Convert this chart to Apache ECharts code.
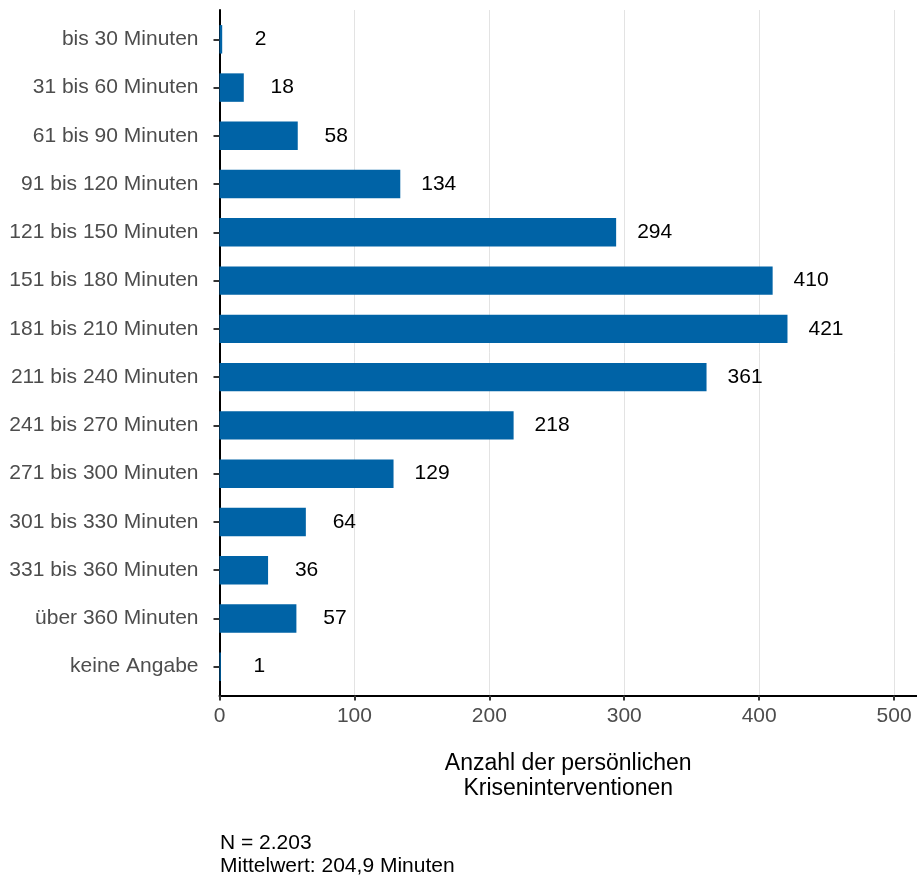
<!DOCTYPE html>
<html>
<head>
<meta charset="utf-8">
<script src="https://cdn.jsdelivr.net/npm/echarts@6/dist/echarts.min.js"></script>
<style>
  html, body { margin: 0; padding: 0; background: #fff; }
  #chart { width: 917px; height: 878px; }
</style>
</head>
<body>
<div id="chart"></div>
<script>
// Dauer der persönlichen Krisenintervention (Kategorien) und Anzahl der Fälle
const categories = [
  'bis 30 Minuten', '31 bis 60 Minuten', '61 bis 90 Minuten', '91 bis 120 Minuten',
  '121 bis 150 Minuten', '151 bis 180 Minuten', '181 bis 210 Minuten', '211 bis 240 Minuten',
  '241 bis 270 Minuten', '271 bis 300 Minuten', '301 bis 330 Minuten', '331 bis 360 Minuten',
  'über 360 Minuten', 'keine Angabe'
];
const counts = [2, 18, 58, 134, 294, 410, 421, 361, 218, 129, 64, 36, 57, 1];
const xTicks = [0, 100, 200, 300, 400, 500];
const axisTitle = 'Anzahl der persönlichen\nKriseninterventionen';
const notes = ['N = 2.203', 'Mittelwert: 204,9 Minuten'];

const FONT = '"Liberation Sans", Arial, Helvetica, sans-serif';
const X_MAX = 517;

const chart = echarts.init(document.getElementById('chart'), null, { renderer: 'canvas' });

chart.setOption({
  backgroundColor: '#ffffff',
  animation: false,
  textStyle: { fontFamily: FONT },
  grid: [
    // panel frame: axis lines, x ticks and vertical grid lines
    { left: 219.5, right: 0, top: 10, bottom: 182.5 },
    // category bands for the bars
    { left: 219.5, right: 0, top: 15.2, bottom: 187.2 }
  ],
  xAxis: [
    {
      gridIndex: 0, type: 'value', min: 0, max: X_MAX, interval: 100,
      axisLine: { show: true, lineStyle: { color: '#000', width: 2 } },
      axisTick: { show: true, length: 5, lineStyle: { color: '#333', width: 2 } },
      axisLabel: {
        color: '#4d4d4d', fontSize: 21, margin: 10, fontFamily: FONT,
        formatter: v => (xTicks.indexOf(v) >= 0 ? String(v) : ''),
        showMaxLabel: false
      },
      splitLine: { show: true, lineStyle: { color: '#e3e3e3', width: 1 } },
      name: axisTitle,
      nameLocation: 'middle',
      nameGap: 56,
      nameTextStyle: { color: '#000', fontSize: 23, lineHeight: 25, fontFamily: FONT, align: 'center' }
    },
    {
      gridIndex: 1, type: 'value', min: 0, max: X_MAX, show: false
    }
  ],
  yAxis: [
    {
      gridIndex: 0, type: 'value', min: 0, max: 1,
      axisLine: { show: true, lineStyle: { color: '#000', width: 2 } },
      axisTick: { show: false }, axisLabel: { show: false }, splitLine: { show: false }
    },
    {
      gridIndex: 1, type: 'category', data: categories, inverse: true,
      axisLine: { show: false },
      axisTick: { show: true, alignWithLabel: true, length: 6, lineStyle: { color: '#333', width: 2 } },
      axisLabel: { color: '#4d4d4d', fontSize: 21, margin: 21, fontFamily: FONT, padding: [4, 0, 0, 0] },
      splitLine: { show: false }
    }
  ],
  series: [
    {
      type: 'bar',
      xAxisIndex: 1, yAxisIndex: 1,
      data: counts,
      barWidth: '59%',
      itemStyle: { color: '#0063a6' },
      label: {
        show: true,
        position: 'right',
        distance: 38.5,
        align: 'center',
        color: '#000',
        fontSize: 21,
        fontFamily: FONT,
        padding: [4, 0, 0, 0]
      },
      z: 1
    }
  ],
  graphic: [
    {
      type: 'text',
      left: 220, top: 832,
      style: {
        text: notes.join('\n'),
        fill: '#000',
        font: '21px ' + FONT,
        lineHeight: 23
      }
    }
  ]
});
</script>
</body>
</html>
